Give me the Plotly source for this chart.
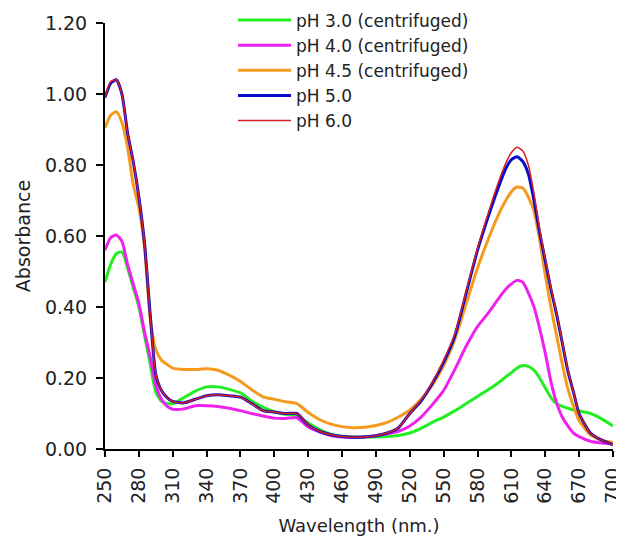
import plotly.graph_objects as go

wavelength = [250, 255, 260, 265, 270, 275, 280, 285, 290, 295, 300, 305, 310,
              320, 330, 340, 350, 360, 370, 380, 390, 400, 410, 420, 430, 440,
              450, 460, 470, 480, 490, 500, 510, 520, 530, 540, 550, 560, 570,
              580, 590, 600, 605, 610, 615, 620, 625, 630, 635, 640, 645, 650,
              655, 660, 665, 670, 680, 690, 700]

ph30 = [0.47, 0.52, 0.55, 0.555, 0.51, 0.455, 0.40, 0.32, 0.24, 0.16, 0.135, 0.128, 0.128,
        0.145, 0.163, 0.175, 0.175, 0.168, 0.158, 0.135, 0.118, 0.105, 0.098, 0.094, 0.073, 0.055,
        0.042, 0.036, 0.034, 0.034, 0.034, 0.035, 0.038, 0.045, 0.058, 0.075, 0.090, 0.108, 0.128,
        0.148, 0.168, 0.190, 0.203, 0.215, 0.228, 0.235, 0.233, 0.222, 0.200, 0.172, 0.145, 0.128,
        0.120, 0.115, 0.110, 0.107, 0.100, 0.085, 0.065]

ph40 = [0.56, 0.595, 0.603, 0.585, 0.52, 0.465, 0.41, 0.33, 0.26, 0.18, 0.14, 0.12, 0.112,
        0.113, 0.122, 0.122, 0.120, 0.115, 0.108, 0.100, 0.093, 0.087, 0.086, 0.088, 0.062, 0.048,
        0.038, 0.034, 0.033, 0.034, 0.038, 0.043, 0.050, 0.065, 0.090, 0.125, 0.165, 0.225, 0.290,
        0.345, 0.385, 0.430, 0.450, 0.465, 0.475, 0.470, 0.440, 0.400, 0.340, 0.270, 0.190, 0.130,
        0.090, 0.065, 0.045, 0.035, 0.022, 0.017, 0.015]

ph45 = [0.905, 0.94, 0.95, 0.92, 0.85, 0.745, 0.68, 0.57, 0.37, 0.28, 0.25, 0.238, 0.228,
        0.224, 0.224, 0.226, 0.222, 0.208, 0.190, 0.167, 0.147, 0.140, 0.133, 0.128, 0.103, 0.083,
        0.070, 0.063, 0.060, 0.061, 0.066, 0.075, 0.090, 0.110, 0.140, 0.180, 0.235, 0.310, 0.410,
        0.510, 0.595, 0.670, 0.700, 0.725, 0.738, 0.735, 0.710, 0.670, 0.590, 0.490, 0.400, 0.320,
        0.240, 0.170, 0.120, 0.080, 0.040, 0.025, 0.018]

ph50 = [0.99, 1.03, 1.04, 1.00, 0.89, 0.81, 0.71, 0.58, 0.38, 0.21, 0.165, 0.145, 0.134,
        0.130, 0.140, 0.150, 0.153, 0.150, 0.146, 0.128, 0.108, 0.104, 0.100, 0.100, 0.068, 0.050,
        0.040, 0.035, 0.033, 0.034, 0.037, 0.045, 0.060, 0.100, 0.135, 0.185, 0.245, 0.320, 0.440,
        0.560, 0.660, 0.750, 0.790, 0.815, 0.823, 0.810, 0.775, 0.700, 0.610, 0.530, 0.450, 0.380,
        0.300, 0.220, 0.160, 0.100, 0.045, 0.025, 0.012]

ph60 = [0.99, 1.035, 1.04, 1.00, 0.89, 0.81, 0.71, 0.58, 0.38, 0.21, 0.165, 0.145, 0.134,
        0.130, 0.140, 0.150, 0.153, 0.150, 0.146, 0.128, 0.108, 0.104, 0.100, 0.100, 0.068, 0.050,
        0.040, 0.035, 0.033, 0.034, 0.037, 0.045, 0.060, 0.100, 0.137, 0.188, 0.250, 0.325, 0.445,
        0.565, 0.670, 0.765, 0.805, 0.835, 0.850, 0.840, 0.800, 0.720, 0.620, 0.535, 0.455, 0.382,
        0.302, 0.222, 0.160, 0.100, 0.045, 0.025, 0.012]

series_names = ["pH 3.0 (centrifuged)", "pH 4.0 (centrifuged)", "pH 4.5 (centrifuged)",
                "pH 5.0", "pH 6.0"]
series_values = [ph30, ph40, ph45, ph50, ph60]
series_colors = ["#22EE22", "#EE22EE", "#F59A1E", "#0A0ACC", "#D42020"]
series_widths = [3, 3, 3, 3, 1.5]

x_ticks = list(range(250, 701, 30))
y_ticks = [0.0, 0.2, 0.4, 0.6, 0.8, 1.0, 1.2]

FONT = "DejaVu Sans"

fig = go.Figure()
for name, vals, col, w in zip(series_names, series_values, series_colors, series_widths):
    fig.add_trace(go.Scatter(x=wavelength, y=vals, name=name, mode="lines",
                             line=dict(color=col, width=w, shape="spline", smoothing=0.6)))

fig.update_layout(
    width=616, height=535,
    margin=dict(l=97, r=11, t=15, b=94, autoexpand=False),
    paper_bgcolor="white", plot_bgcolor="white",
    font=dict(family=FONT, size=19, color="#222222"),
    showlegend=True,
    legend=dict(x=0.252, y=1.048, xanchor="left", yanchor="top",
                bgcolor="rgba(0,0,0,0)", font=dict(family=FONT, size=17, color="#222222"),
                tracegroupgap=0, itemwidth=53),
    xaxis=dict(range=[250, 700], tickvals=x_ticks, ticktext=[str(v) for v in x_ticks],
               tickangle=-90, ticks="outside", ticklen=6, tickwidth=2, tickcolor="black",
               showline=True, linecolor="black", linewidth=2, showgrid=False, zeroline=False,
               ticklabelstandoff=3, ticklabeloverflow="allow",
               title=dict(text="Wavelength (nm.)", font=dict(family=FONT, size=18), standoff=17),
               tickfont=dict(family=FONT, size=19)),
    yaxis=dict(range=[0, 1.2], tickvals=y_ticks, tickformat=".2f",
               ticks="outside", ticklen=7, tickwidth=2, tickcolor="black",
               showline=True, linecolor="black", linewidth=2, showgrid=False, zeroline=False,
               ticklabelstandoff=5,
               title=dict(text="Absorbance", font=dict(family=FONT, size=19), standoff=9),
               tickfont=dict(family=FONT, size=19)),
)

fig.write_html("out.html")
